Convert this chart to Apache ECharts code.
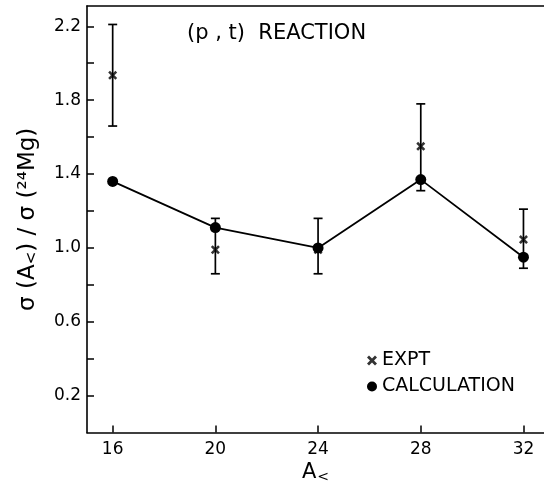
<!DOCTYPE html>
<html>
  <head>
    <meta charset="utf-8" />
    <title>(p,t) reaction</title>
    <script src="https://cdn.jsdelivr.net/npm/echarts@6/dist/echarts.min.js"></script>
  </head>
  <body style="margin: 0">
    <div id="main" style="width: 544px; height: 489px"></div>

    <script>
      // mass numbers A<
      var massNumbers = [16, 20, 24, 28, 32];
      // experiment ratio and its error bar ends
      var exptValues = [1.935, 0.99, 0.99, 1.55, 1.045];
      var exptLow = [1.66, 0.86, 0.86, 1.31, 0.89];
      var exptHigh = [2.21, 1.16, 1.16, 1.78, 1.21];
      // calculation
      var calcValues = [1.36, 1.11, 1.0, 1.37, 0.95];
      // axis ticks
      var xTicks = [16, 20, 24, 28, 32];
      var yTicks = [0.2, 0.4, 0.6, 0.8, 1.0, 1.2, 1.4, 1.6, 1.8, 2.0, 2.2];
      var yLabels = [0.2, 0.6, 1.0, 1.4, 1.8, 2.2];

      var font = "DejaVu Sans";
      // filled cross shape so it also works as a legend icon
      var crossPath =
        "path://M0,2L2,0L5,3L8,0L10,2L7,5L10,8L8,10L5,7L2,10L0,8L3,5Z";

      var exptData = massNumbers.map((a, i) => [a, exptValues[i]]);
      var calcData = massNumbers.map((a, i) => [a, calcValues[i]]);
      var errData = massNumbers.map((a, i) => [a, exptLow[i], exptHigh[i]]);

      var myChart = echarts.init(document.getElementById("main"));

      var option = {
        animation: false,
        title: {
          text: "(p , t)  REACTION",
          left: 182,
          top: 18,
          textStyle: {
            fontFamily: font,
            fontSize: 21,
            fontWeight: "normal",
            color: "#000",
          },
        },
        legend: {
          orient: "vertical",
          left: 362,
          top: 346,
          itemWidth: 10,
          itemHeight: 10,
          itemGap: 7,
          textStyle: { fontFamily: font, fontSize: 19, color: "#000" },
          data: [
            { name: "EXPT", icon: crossPath },
            { name: "CALCULATION", icon: "circle" },
          ],
        },
        grid: {
          left: 87,
          right: 0,
          top: 6,
          bottom: 53,
        },
        xAxis: [
          {
            type: "value",
            min: 15,
            max: 32.8,
            name: "{a|A}{s|<}",
            nameLocation: "middle",
            nameGap: 24,
            nameTextStyle: {
              rich: {
                a: { fontFamily: font, fontSize: 21, color: "#000" },
                s: {
                  fontFamily: font,
                  fontSize: 14,
                  color: "#000",
                  verticalAlign: "bottom",
                  padding: [8, 0, 0, 1],
                },
              },
            },
            splitLine: { show: false },
            axisLine: { lineStyle: { color: "#000", width: 1.6 } },
            axisTick: {
              inside: true,
              length: 7,
              customValues: xTicks,
              lineStyle: { color: "#000", width: 1.5 },
            },
            axisLabel: {
              customValues: xTicks,
              margin: 8,
              fontFamily: font,
              fontSize: 17,
              color: "#000",
            },
          },
          {
            // top frame line only
            type: "value",
            position: "top",
            min: 15,
            max: 32.8,
            splitLine: { show: false },
            axisLine: { onZero: false, lineStyle: { color: "#000", width: 1.6 } },
            axisTick: { show: false },
            axisLabel: { show: false },
          },
        ],
        yAxis: {
          type: "value",
          min: 0,
          max: 2.31,
          name: "σ (A{s|<}) / σ (²⁴Mg)",
          nameLocation: "middle",
          nameGap: 47,
          nameTextStyle: {
            fontFamily: font,
            fontSize: 23,
            color: "#000",
            rich: {
              s: {
                fontFamily: font,
                fontSize: 15,
                color: "#000",
                verticalAlign: "bottom",
              },
            },
          },
          splitLine: { show: false },
          axisLine: { lineStyle: { color: "#000", width: 1.6 } },
          axisTick: {
            inside: true,
            length: 7,
            customValues: yTicks,
            lineStyle: { color: "#000", width: 1.5 },
          },
          axisLabel: {
            customValues: yLabels,
            margin: 6,
            fontFamily: font,
            fontSize: 17,
            color: "#000",
            formatter: (v) => v.toFixed(1),
          },
        },
        series: [
          {
            name: "error",
            type: "custom",
            data: errData,
            encode: { x: 0, y: [1, 2] },
            renderItem: function (params, api) {
              var lo = api.coord([api.value(0), api.value(1)]);
              var hi = api.coord([api.value(0), api.value(2)]);
              var cap = 4.5;
              var style = { stroke: "#000", lineWidth: 1.7 };
              return {
                type: "group",
                children: [
                  { type: "line", shape: { x1: lo[0], y1: lo[1], x2: hi[0], y2: hi[1] }, style: style },
                  { type: "line", shape: { x1: lo[0] - cap, y1: lo[1], x2: lo[0] + cap, y2: lo[1] }, style: style },
                  { type: "line", shape: { x1: hi[0] - cap, y1: hi[1], x2: hi[0] + cap, y2: hi[1] }, style: style },
                ],
              };
            },
          },
          {
            name: "CALCULATION",
            type: "line",
            data: calcData,
            symbol: "circle",
            symbolSize: 11,
            itemStyle: { color: "#000" },
            lineStyle: { color: "#000", width: 1.8 },
          },
          {
            name: "EXPT",
            type: "scatter",
            data: exptData,
            symbol: crossPath,
            symbolSize: 9,
            itemStyle: { color: "#000" },
          },
        ],
      };

      myChart.setOption(option);
    </script>
  </body>
</html>
